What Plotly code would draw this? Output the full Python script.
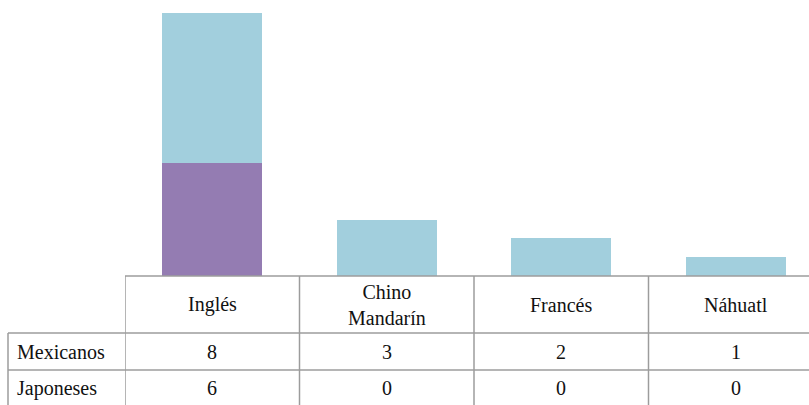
import plotly.graph_objects as go

categories = ["Inglés", "Chino Mandarín", "Francés", "Náhuatl"]
header_labels = ["Inglés", "Chino<br>Mandarín", "Francés", "Náhuatl"]
mexicanos = [8, 3, 2, 1]
japoneses = [6, 0, 0, 0]
series_names = ["Mexicanos", "Japoneses"]

W, H = 809, 405
plot_top, plot_bottom = 0, 276
left = 125
plot_h = plot_bottom - plot_top
plot_w = W - left
col_w = 174.5

def py(Y):
    return (plot_bottom - Y) / plot_h

def px(X):
    return (X - left) / plot_w

FONT = "Liberation Serif"
FSIZE = 20
LINE = dict(color="#9c9c9c", width=1.5)

def serif(t):
    return "<br>".join('<span style="font-family:Liberation Serif, serif">%s</span>' % p for p in t.split("<br>"))

fig = go.Figure()
fig.add_trace(go.Bar(x=categories, y=japoneses, name="Japoneses",
                     marker=dict(color="#947CB2", line=dict(width=0)), width=0.573))
fig.add_trace(go.Bar(x=categories, y=mexicanos, name="Mexicanos",
                     marker=dict(color="#A2CFDD", line=dict(width=0)), width=0.573))

x_max = -0.5 + plot_w / col_w
y_max = plot_h / (263.0 / 14)

fig.add_shape(type="line", xref="paper", yref="paper", x0=0, x1=1, y0=py(276), y1=py(276), line=LINE)
for Y in (333, 370):
    fig.add_shape(type="line", xref="paper", yref="paper", x0=px(8), x1=1, y0=py(Y), y1=py(Y), line=LINE)
fig.add_shape(type="line", xref="paper", yref="paper", x0=px(8), x1=px(8), y0=py(333), y1=py(H + 5), line=LINE)
for i in range(len(categories)):
    xv = i - 0.5
    fig.add_shape(type="line", xref="x", yref="paper", x0=xv, x1=xv, y0=py(276), y1=py(H + 5), line=LINE)

for i, lab in enumerate(header_labels):
    fig.add_annotation(xref="x", yref="paper", x=i, y=py(304.5), text=serif(lab),
                       showarrow=False, xanchor="center", yanchor="middle",
                       font=dict(family=FONT, size=FSIZE, color="#111111"))
rows = [("Mexicanos", mexicanos, 351.5), ("Japoneses", japoneses, 388)]
for name, vals, Y in rows:
    fig.add_annotation(xref="paper", yref="paper", x=px(15), y=py(Y), text=serif(name),
                       showarrow=False, xanchor="left", yanchor="middle",
                       font=dict(family=FONT, size=FSIZE, color="#111111"))
    for i, v in enumerate(vals):
        fig.add_annotation(xref="x", yref="paper", x=i, y=py(Y), text=serif(str(v)),
                           showarrow=False, xanchor="center", yanchor="middle",
                           font=dict(family=FONT, size=FSIZE, color="#111111"))

fig.update_layout(
    width=W, height=H,
    margin=dict(l=left, r=0, t=plot_top, b=H - plot_bottom, pad=0),
    barmode="stack",
    showlegend=False,
    font=dict(family=FONT),
    plot_bgcolor="white", paper_bgcolor="white",
    xaxis=dict(type="category", range=[-0.5, x_max], showticklabels=False, showgrid=False,
               zeroline=False, showline=False, ticks=""),
    yaxis=dict(range=[0, y_max], showticklabels=False, showgrid=False, zeroline=False,
               showline=False, ticks=""),
    bargap=0,
)

fig.write_html("out.html")
